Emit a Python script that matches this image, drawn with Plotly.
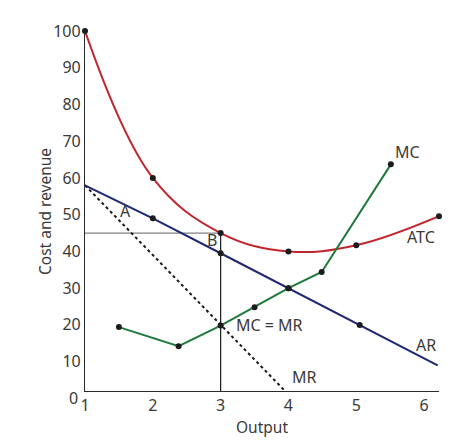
import plotly.graph_objects as go

# ATC, AR, MR and MC curves (output on x, cost/revenue on y)
atc_x = [1, 2, 3, 4, 5, 6.22]
atc_y = [100, 60, 45, 40, 41.7, 49.6]

ar_x = [1, 2, 3, 4, 5.05, 6.2]
ar_y = [58, 49, 39.5, 30, 20, 9]

mr_x = [1, 3.95]
mr_y = [58, 2]

mc_x = [1.5, 2.38, 3, 3.5, 4, 4.49, 5.51]
mc_y = [19.4, 14.2, 19.8, 24.8, 30, 34.4, 63.7]

x_ticks = [1, 2, 3, 4, 5, 6]
y_ticks = [10, 20, 30, 40, 50, 60, 70, 80, 90, 100]

FONT = "Noto Sans"
TEXT = "#3a3a3a"
DOT = dict(size=6, color="#1c1c1c")

fig = go.Figure()

# guide lines for price / quantity at the profit max point
fig.add_trace(go.Scatter(x=[1, 3], y=[45, 45], mode="lines",
                         line=dict(color="#808080", width=1.3), hoverinfo="skip"))
fig.add_trace(go.Scatter(x=[3, 3], y=[45, 2], mode="lines",
                         line=dict(color="#1a1a1a", width=1.2), hoverinfo="skip"))

fig.add_trace(go.Scatter(x=mr_x, y=mr_y, mode="lines",
                         line=dict(color="#1a1a1a", width=2, dash="dot")))

fig.add_trace(go.Scatter(x=ar_x, y=ar_y, mode="lines",
                         line=dict(color="#1f2870", width=2)))
fig.add_trace(go.Scatter(x=ar_x[1:5], y=ar_y[1:5], mode="markers", marker=DOT))

fig.add_trace(go.Scatter(x=atc_x, y=atc_y, mode="lines",
                         line=dict(color="#c0262d", width=2, shape="spline", smoothing=1.1)))
fig.add_trace(go.Scatter(x=atc_x, y=atc_y, mode="markers", marker=DOT, cliponaxis=False))

fig.add_trace(go.Scatter(x=mc_x, y=mc_y, mode="lines+markers",
                         line=dict(color="#1e7a3c", width=2), marker=DOT))

labels = [
    ("A", 1.6, 51, "center"),
    ("B", 2.88, 43, "center"),
    ("MC = MR", 3.2, 20, "left"),
    ("MR", 4.02, 5.7, "left"),
    ("AR", 6.03, 14.5, "center"),
    ("ATC", 5.96, 44, "center"),
    ("MC", 5.76, 67, "center"),
]
for txt, lx, ly, anchor in labels:
    fig.add_annotation(x=lx, y=ly, text=txt, showarrow=False, xanchor=anchor,
                       font=dict(family=FONT, size=16, color=TEXT))

# zero label sits just below the drawn axis (axis starts at 2)
fig.add_annotation(x=1, xref="x", y=-2 / 98, yref="paper", text="0", showarrow=False,
                   xanchor="right", yanchor="middle", xshift=-5,
                   font=dict(family=FONT, size=16, color=TEXT))

fig.add_annotation(x=-0.113, y=0.5, xref="paper", yref="paper", text="Cost and revenue",
                   textangle=-90, showarrow=False, xanchor="center", yanchor="middle",
                   font=dict(family=FONT, size=15.5, color=TEXT))

# the page body adds an 8px offset, so margins are trimmed to compensate
fig.update_layout(
    width=464, height=446,
    margin=dict(l=77, r=33, t=23, b=63),
    paper_bgcolor="white", plot_bgcolor="white",
    showlegend=False,
    font=dict(family=FONT, size=16, color=TEXT),
)
fig.update_xaxes(range=[1, 6.22], tickvals=x_ticks, showgrid=False, zeroline=False,
                 showline=True, linecolor="#2a2a2a", linewidth=1.2, ticks="",
                 title=dict(text="Output", standoff=6, font=dict(size=15.5)))
fig.update_yaxes(range=[2, 100], tickvals=y_ticks, showgrid=False, zeroline=False,
                 showline=True, linecolor="#2a2a2a", linewidth=1.2, ticks="")

fig.write_html("out.html")
